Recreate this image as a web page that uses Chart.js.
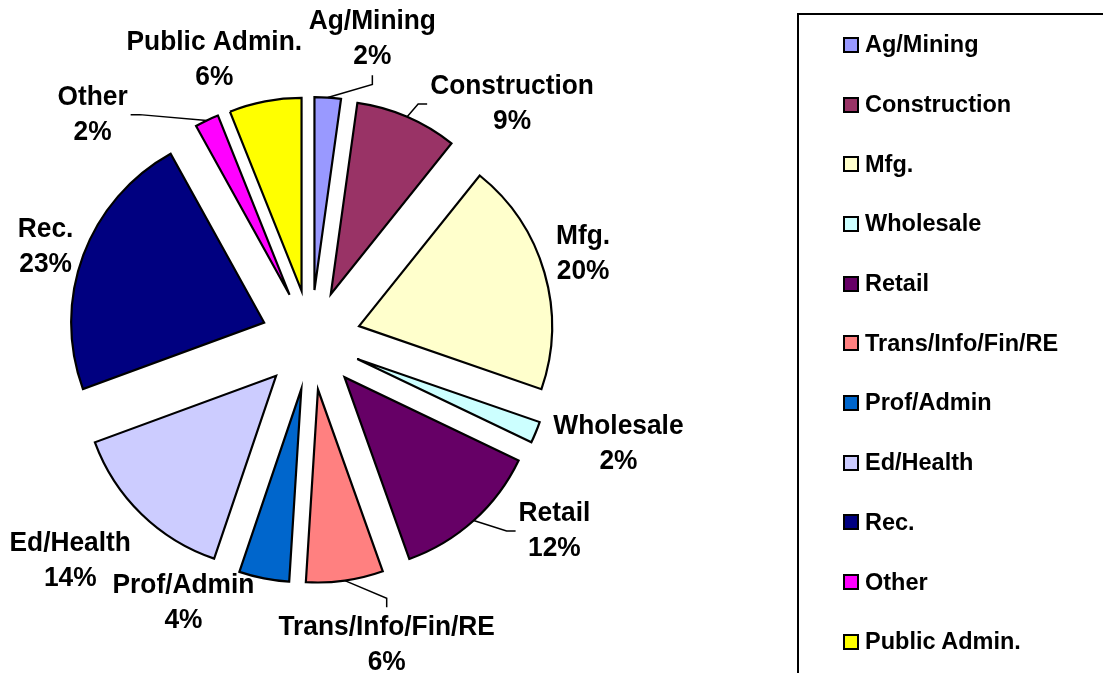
<!DOCTYPE html>
<html>
<head>
<meta charset="utf-8">
<script src="https://cdn.jsdelivr.net/npm/chart.js@4.4.1/dist/chart.umd.min.js"></script>
<style>
  body { margin: 0; background: #fff; }
  #wrap { position: relative; width: 1103px; height: 673px; overflow: hidden; }
  #wrap canvas { position: absolute; left: 0; top: 0; }
  #legend {
    position: absolute; left: 797px; top: 13px; width: 400px; height: 700px;
    border: 2px solid #000; box-sizing: content-box;
    font: bold 23.5px 'Liberation Sans', Arial, sans-serif; color: #000;
  }
  #legend .item { height: 59.7px; display: flex; align-items: center; padding-left: 44px; }
  #legend .box { width: 12px; height: 12px; border: 2.5px solid #000; margin-right: 6px; flex: none; }
</style>
</head>
<body>
<div id="wrap">
  <canvas id="pie" width="1103" height="673"></canvas>
  <div id="legend"></div>
</div>
<script>
// Beschäftigung nach Branchen (Anteile in %, aus der Grafik geschätzt)
const categories = ['Ag/Mining', 'Construction', 'Mfg.', 'Wholesale', 'Retail',
    'Trans/Info/Fin/RE', 'Prof/Admin', 'Ed/Health', 'Rec.', 'Other', 'Public Admin.'];
const shares = [2.2, 8.55, 19.55, 1.8, 12.45, 6.45, 4.2, 14.2, 22.55, 2.0, 6.05];
const sliceColors = ['#9999FF', '#993366', '#FFFFCC', '#CCFFFF', '#660066',
    '#FF8080', '#0066CC', '#CCCCFF', '#000080', '#FF00FF', '#FFFF00'];

// Excel-artige Explosion: jedes Segment gleich weit nach aussen schieben
const explodePlugin = {
    id: 'explode',
    beforeDatasetDraw(chart, args, opts) {
        const ctx = chart.ctx;
        args.meta.data.forEach(arc => {
            const {startAngle, endAngle} = arc.getProps(['startAngle', 'endAngle'], true);
            const mid = (startAngle + endAngle) / 2;
            ctx.save();
            ctx.translate(Math.cos(mid) * opts.distance, Math.sin(mid) * opts.distance);
            arc.draw(ctx);
            ctx.restore();
        });
        return false;
    }
};

// Beschriftungen mit Name + Prozent, teilweise mit Fuehrungslinie
const sliceLabelPlugin = {
    id: 'sliceLabels',
    afterDatasetsDraw(chart, args, opts) {
        const ctx = chart.ctx;
        const ds = chart.data.datasets[0];
        const total = ds.data.reduce((a, b) => a + b, 0);
        const explode = chart.options.plugins.explode.distance;
        const meta = chart.getDatasetMeta(0);
        ctx.save();
        ctx.font = opts.font;
        ctx.fillStyle = '#000';
        ctx.strokeStyle = '#000';
        ctx.lineWidth = 1.5;
        ctx.textAlign = 'center';
        ctx.textBaseline = 'middle';
        meta.data.forEach((arc, i) => {
            const {x, y, startAngle, endAngle, outerRadius} =
                arc.getProps(['x', 'y', 'startAngle', 'endAngle', 'outerRadius'], true);
            const mid = (startAngle + endAngle) / 2;
            const a = mid + opts.nudge[i] * Math.PI / 180;
            const lx = x + Math.cos(a) * outerRadius * opts.dist[i];
            const ly = y + Math.sin(a) * outerRadius * opts.dist[i] + 1;
            const lines = [chart.data.labels[i], Math.round(ds.data[i] / total * 100) + '%'];
            const half = opts.lineHeight / 2;

            lines.forEach((t, k) => {
                ctx.save();
                ctx.translate(lx, ly + (k === 0 ? -half : half));
                ctx.scale(opts.squeeze, 1);
                ctx.fillText(t, 0, 0);
                ctx.restore();
            });

            if (!opts.leader[i]) return;
            const w = Math.max(...lines.map(t => ctx.measureText(t).width)) * opts.squeeze;
            const h = opts.lineHeight * 2;
            const px = x + Math.cos(mid) * (outerRadius + explode);
            const py = y + Math.sin(mid) * (outerRadius + explode);
            const dx = px - lx, dy = py - ly;
            let ax, ay, sx, sy;
            if (Math.abs(dy) / h > Math.abs(dx) / w) {
                const s = Math.sign(dy);
                ax = lx; ay = ly + s * (h / 2 + 2);
                sx = ax; sy = ay + s * 9;
            } else {
                const s = Math.sign(dx);
                ax = lx + s * (w / 2 + 3); ay = ly;
                sx = ax + s * 9; sy = ay;
            }
            ctx.beginPath();
            ctx.moveTo(px, py);
            ctx.lineTo(sx, sy);
            ctx.lineTo(ax, ay);
            ctx.stroke();
        });
        ctx.restore();
    }
};

const ctx = document.getElementById('pie').getContext('2d');
const chartPie = new Chart(ctx, {
    type: 'pie',
    data: {
        labels: categories,
        datasets: [{
            data: shares,
            backgroundColor: sliceColors,
            borderColor: '#000',
            borderWidth: 2.2,
            borderJoinStyle: 'miter'
        }]
    },
    options: {
        responsive: false,
        animation: false,
        radius: 193,
        layout: { padding: { left: 0, right: 481, top: 7, bottom: 0 } },
        plugins: {
            legend: { display: false },
            tooltip: { enabled: false },
            explode: { distance: 50 },
            sliceLabels: {
                font: "bold 28px 'Liberation Sans', Arial, sans-serif",
                squeeze: 0.94,
                lineHeight: 35,
                nudge: [7.5, 17.0, -1.6, -3.8, -10.0, -6.0, 14.8, 3.3, -0.8, -18.6, -8.1],
                dist: [1.60, 1.61, 1.48, 1.68, 1.60, 1.62, 1.51, 1.69, 1.46, 1.63, 1.54],
                leader: [true, true, false, false, true, true, false, false, false, true, false]
            }
        }
    },
    plugins: [explodePlugin, sliceLabelPlugin]
});

// Legende als HTML, aus denselben Arrays
const legendEl = document.getElementById('legend');
categories.forEach((name, i) => {
    const item = document.createElement('div');
    item.className = 'item';
    const box = document.createElement('span');
    box.className = 'box';
    box.style.background = sliceColors[i];
    item.appendChild(box);
    item.appendChild(document.createTextNode(name));
    legendEl.appendChild(item);
});
</script>
</body>
</html>
